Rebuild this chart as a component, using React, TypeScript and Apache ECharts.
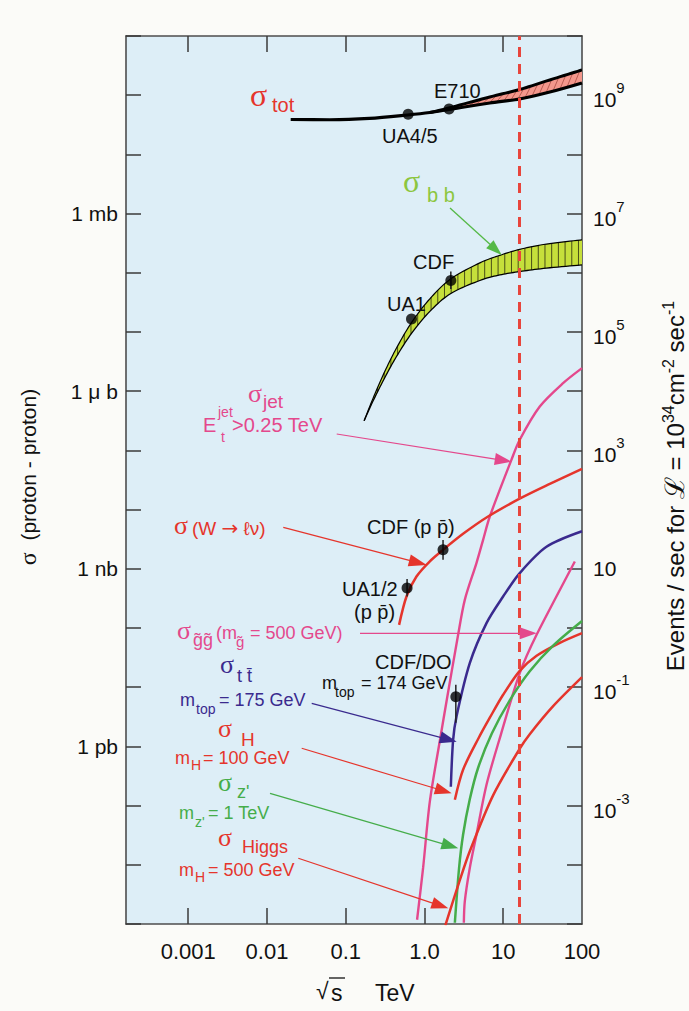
import React, { useEffect, useRef } from "react";
import * as echarts from "echarts";

const SANS = "'Liberation Sans', Arial, Helvetica, sans-serif";
const SERIF = "'Liberation Serif', 'Times New Roman', serif";

// ---------- axes ----------
const X_MIN_LOG = -3.79; // frame left edge (sqrt(s) ~ 0.00016 TeV)
const X_MAX_LOG = 2; // 100 TeV
const xTickValues = [0.001, 0.01, 0.1, 1, 10, 100];
const xTickLabels = ["0.001", "0.01", "0.1", "1.0", "10", "100"];
// sigma in nb ; events/sec = sigma[nb] * 10  (L = 1e34 cm^-2 s^-1)
const SIGMA_MIN_NB = 1e-6;
const SIGMA_MAX_NB = 1e9;
const leftTickValues = [1e6, 1e3, 1, 1e-3];
const leftTickLabels = ["1 mb", "1 \u03bc b", "1 nb", "1 pb"];
const rightTickExponents = [9, 7, 5, 3, 1, -1, -3];
const LHC_TEV = 16;

// ---------- data (sqrt(s) in TeV, sigma in nb) ----------
const totX = [0.02, 0.063, 0.2, 0.61, 1.17, 2.04, 6.75, 16.2, 39, 100];
const totLow = [3.89e7, 3.85e7, 4.05e7, 4.63e7, 5.1e7, 5.74e7, 7.39e7, 8.63e7, 1.13e8, 1.61e8];
const totHigh = [null, null, null, null, 5.1e7, 6.08e7, 9.33e7, 1.25e8, 1.81e8, 2.67e8];

const bbX = [0.171, 0.222, 0.313, 0.441, 0.684, 1.17, 2.16, 5.04, 9.04, 16.2, 35.4, 100];
const bbHigh = [316, 757, 2150, 5350, 1.44e4, 3.64e4, 7.9e4, 1.47e5, 1.97e5, 2.49e5, 3.06e5, 3.61e5];
const bbLow = [316, 681, 1690, 3850, 9460, 2.23e4, 4.47e4, 7.41e4, 9.2e4, 1.05e5, 1.2e5, 1.36e5];

const jetX = [0.805, 0.96, 1.17, 1.59, 1.92, 2.65, 3.25, 4.57, 5.55, 6.75, 12.7, 16.2, 29.1, 57.5, 100];
const jetY = [1.18e-6, 8.83e-6, 1.175e-4, 1.4e-3, 6.14e-3, 0.0718, 0.299, 1.25, 3.08, 7.64, 69.2, 151, 550, 1365, 2450];

const wX = [0.476, 0.591, 0.791, 1.17, 1.72, 3.09, 6.42, 16.6, 39.0, 100];
const wY = [0.113, 0.34, 0.741, 1.34, 2.09, 3.9, 7.64, 15.6, 27.2, 48.8];

const ttX = [2.16, 2.31, 2.55, 3.76, 6.13, 9.96, 16.2, 35.4, 100];
const ttY = [2.08e-4, 1.29e-3, 3.21e-3, 0.0255, 0.121, 0.34, 0.845, 2.35, 4.3];

const ggX = [3.16, 3.25, 3.76, 4.57, 6.13, 9.31, 16.2, 26.5, 81.1];
const ggY = [1.05e-6, 2.41e-6, 8.83e-6, 3.22e-5, 2.25e-4, 1.57e-3, 0.0173, 0.0767, 1.33];

const zpX = [2.43, 2.75, 3.09, 3.76, 4.8, 7.16, 12.1, 21.7, 43.0, 100];
const zpY = [1.05e-6, 8.83e-6, 3.22e-5, 1.28e-4, 4.36e-4, 1.65e-3, 6.01e-3, 0.0186, 0.0502, 0.131];

const h100X = [2.43, 3.09, 4.89, 6.75, 9.96, 16.2, 26.5, 52.3, 100];
const h100Y = [1.26e-4, 4.04e-4, 1.4e-3, 3.05e-3, 7.45e-3, 0.0189, 0.034, 0.0562, 0.082];

const h500X = [1.84, 2.81, 3.76, 7.43, 16.2, 21.7, 43.0, 100];
const h500Y = [9.5e-7, 5.5e-6, 1.69e-5, 1.49e-4, 9.16e-4, 1.61e-3, 4.79e-3, 0.0148];

// measurements: UA4/5, E710, UA1(bb), CDF(bb), UA1/2(W), CDF(W), CDF/D0(tt)
const ptX = [0.62, 2.05, 0.684, 2.16, 0.601, 1.72, 2.5];
const ptY = [4.76e7, 5.85e7, 1.66e4, 7.38e4, 0.472, 2.09, 0.00689];
const ptErrLow = [null, null, null, 5.35e4, 0.34, 1.42, 0.0025];
const ptErrHigh = [null, null, null, 1.05e5, 0.67, 3.08, 0.011];

// ---------- colours ----------
const RED = "#e5352c";
const PINK = "#e4488c";
const BLUE = "#3a2a8e";
const GREEN = "#45ad4a";
const LIME = "#8cc63f";

const lg = Math.log10;

function catmull(pts: number[][], n = 10): number[][] {
  if (pts.length < 3) return pts;
  const out: number[][] = [];
  for (let i = 0; i < pts.length - 1; i++) {
    const p0 = pts[i - 1] || pts[i];
    const p1 = pts[i];
    const p2 = pts[i + 1];
    const p3 = pts[i + 2] || p2;
    for (let j = 0; j < n; j++) {
      const t = j / n, t2 = t * t, t3 = t2 * t;
      const f = (a: number, b: number, c: number, d: number) =>
        0.5 * (2 * b + (-a + c) * t + (2 * a - 5 * b + 4 * c - d) * t2 + (-a + 3 * b - 3 * c + d) * t3);
      out.push([f(p0[0], p1[0], p2[0], p3[0]), f(p0[1], p1[1], p2[1], p3[1])]);
    }
  }
  out.push(pts[pts.length - 1]);
  return out;
}

function interp(pts: number[][], x: number): number {
  if (x <= pts[0][0]) return pts[0][1];
  for (let k = 0; k < pts.length - 1; k++) {
    const a = pts[k], b = pts[k + 1];
    if (x >= a[0] && x <= b[0]) {
      const t = b[0] === a[0] ? 0 : (x - a[0]) / (b[0] - a[0]);
      return a[1] + t * (b[1] - a[1]);
    }
  }
  return pts[pts.length - 1][1];
}

function bandSeries(xs: number[], lo: number[], hi: number[], o: any) {
  return {
    type: "custom",
    silent: true,
    clip: true,
    z: o.z || 2,
    data: [[lg(xs[0]), lg(lo[0])]],
    renderItem: (_p: any, api: any) => {
      const up = catmull(xs.map((x, i) => api.coord([lg(x), lg(hi[i])])));
      const dn = catmull(xs.map((x, i) => api.coord([lg(x), lg(lo[i])])));
      const children: any[] = [];
      children.push({
        type: "polygon",
        shape: { points: up.concat(dn.slice().reverse()) },
        style: { fill: o.fill, stroke: null },
      });
      const x0 = up[0][0], x1 = up[up.length - 1][0];
      for (let x = x0 + o.step; x < x1 - 1; x += o.step) {
        if (o.diag) {
          const xa = x - o.slant / 2, xb = x + o.slant / 2;
          if (xa < x0 || xb > x1) continue;
          const ya = interp(dn, xa) - 1, yb = interp(up, xb) + 1;
          if (ya - yb < 3) continue;
          children.push({ type: "line", shape: { x1: xa, y1: ya, x2: xb, y2: yb }, style: { stroke: o.hatch, lineWidth: 0.8 } });
        } else {
          children.push({ type: "line", shape: { x1: x, y1: interp(up, x), x2: x, y2: interp(dn, x) }, style: { stroke: o.hatch, lineWidth: 0.8 } });
        }
      }
      children.push({ type: "polyline", shape: { points: up }, style: { stroke: "#000", lineWidth: o.upW, fill: null } });
      if (o.dnW > 0) children.push({ type: "polyline", shape: { points: dn }, style: { stroke: "#000", lineWidth: o.dnW, fill: null } });
      return { type: "group", children };
    },
  };
}

function curve(xs: number[], ys: number[], color: string, width = 2.4, z = 3) {
  return {
    type: "line",
    silent: true,
    data: xs.map((x, i) => [lg(x), lg(ys[i])]),
    showSymbol: false,
    symbol: "none",
    smooth: 0.3,
    clip: true,
    z,
    lineStyle: { color, width },
  };
}

function T(text: string, x: number, y: number, size: number, color: string, o: any = {}) {
  return {
    type: "text",
    x,
    y,
    z: 50,
    silent: true,
    rotation: o.rotation || 0,
    style: {
      text,
      fill: color,
      font: `${size}px ${o.serif ? SERIF : SANS}`,
      align: o.align || "left",
      verticalAlign: "middle",
      textAlign: o.align || "left",
      textVerticalAlign: "middle",
      rich: o.rich,
      lineHeight: o.lineHeight,
    },
  };
}

function arrow(x1: number, y1: number, x2: number, y2: number, color: string, head = 16, w = 5.5, lw = 1.3) {
  const dx = x2 - x1, dy = y2 - y1, L = Math.hypot(dx, dy);
  const ux = dx / L, uy = dy / L;
  const bx = x2 - ux * head, by = y2 - uy * head;
  const px = -uy, py = ux;
  return [
    { type: "line", z: 49, silent: true, shape: { x1, y1, x2: bx + ux * 2, y2: by + uy * 2 }, style: { stroke: color, lineWidth: lw } },
    {
      type: "polygon",
      z: 49,
      silent: true,
      shape: { points: [[x2, y2], [bx + px * w, by + py * w], [bx - px * w, by - py * w]] },
      style: { fill: color },
    },
  ];
}

export default function App() {
  const ref = useRef<HTMLDivElement>(null);

  useEffect(() => {
    document.body.style.margin = "0";
    if (!ref.current) return;
    const chart = echarts.init(ref.current, undefined, { renderer: "svg" });

    const totIdx = totHigh.map((v, i) => (v == null ? -1 : i)).filter((i) => i >= 0);
    const errRows = ptX
      .map((x, i) => (ptErrLow[i] == null ? null : [lg(x), lg(ptErrLow[i] as number), lg(ptErrHigh[i] as number)]))
      .filter((r) => r != null);

    const xLabel = (v: number) => {
      for (let i = 0; i < xTickValues.length; i++) if (Math.abs(lg(xTickValues[i]) - v) < 1e-6) return xTickLabels[i];
      return "";
    };
    const leftLabel = (v: number) => {
      for (let i = 0; i < leftTickValues.length; i++) if (Math.abs(lg(leftTickValues[i]) - v) < 1e-6) return leftTickLabels[i];
      return "";
    };
    const rightLabel = (v: number) => {
      const e = Math.round(v);
      if (!rightTickExponents.includes(e)) return "";
      return e === 1 ? "{p|10}" : `{b|10}{s|${e}}`;
    };

    const axisLineStyle = { color: "#4d4d4d", width: 1.6 };
    const tickStyle = { color: "#3a3a3a", width: 1.5 };
    const xTicks = xTickValues.slice(0, 5).map(lg);

    const option: any = {
      animation: false,
      backgroundColor: "#fbfbf8",
      grid: {
        left: 126,
        right: 107,
        top: 36,
        bottom: 87,
        show: true,
        backgroundColor: "#ddeef7",
        borderWidth: 0,
        containLabel: false,
        outerBoundsMode: "none",
      },
      xAxis: [
        {
          type: "value",
          position: "bottom",
          min: X_MIN_LOG,
          max: X_MAX_LOG,
          axisLine: { show: true, onZero: false, lineStyle: axisLineStyle },
          axisTick: { show: true, inside: true, length: 16, customValues: xTicks, lineStyle: tickStyle },
          axisLabel: {
            customValues: xTickValues.map(lg),
            formatter: (v: number) => xLabel(v),
            fontSize: 22,
            fontFamily: SANS,
            color: "#111",
            margin: 16,
          },
          splitLine: { show: false },
        },
        {
          type: "value",
          position: "top",
          min: X_MIN_LOG,
          max: X_MAX_LOG,
          axisLine: { show: true, onZero: false, lineStyle: axisLineStyle },
          axisTick: { show: true, inside: true, length: 16, customValues: xTicks, lineStyle: tickStyle },
          axisLabel: { show: false },
          splitLine: { show: false },
        },
      ],
      yAxis: [
        {
          type: "value",
          position: "left",
          min: lg(SIGMA_MIN_NB),
          max: lg(SIGMA_MAX_NB),
          interval: 1,
          axisLine: { show: true, onZero: false, lineStyle: axisLineStyle },
          axisTick: { show: true, inside: true, length: 15, lineStyle: tickStyle },
          axisLabel: { formatter: (v: number) => leftLabel(v), fontSize: 21, fontFamily: SANS, color: "#111", margin: 8 },
          splitLine: { show: false },
        },
        {
          type: "value",
          position: "right",
          min: lg(SIGMA_MIN_NB * 10),
          max: lg(SIGMA_MAX_NB * 10),
          interval: 1,
          axisLine: { show: true, onZero: false, lineStyle: axisLineStyle },
          axisTick: { show: true, inside: true, length: 15, lineStyle: tickStyle },
          axisLabel: {
            formatter: (v: number) => rightLabel(v),
            margin: 11,
            rich: {
              p: { fontSize: 21, fontFamily: SANS, color: "#111" },
              b: { fontSize: 21, fontFamily: SANS, color: "#111", lineHeight: 30, verticalAlign: "bottom" },
              s: { fontSize: 15, fontFamily: SANS, color: "#111", lineHeight: 16, verticalAlign: "top" },
            },
          },
          splitLine: { show: false },
        },
      ],
      series: [
        bandSeries(
          totIdx.map((i) => totX[i]),
          totIdx.map((i) => totLow[i]),
          totIdx.map((i) => totHigh[i] as number),
          { fill: "#f3978c", hatch: "#a94c44", step: 7, diag: true, slant: 5, upW: 3, dnW: 0 }
        ),
        curve(totX, totLow, "#000", 3.2),
        bandSeries(bbX, bbLow, bbHigh, { fill: "#c6df3b", hatch: "#2a2a10", step: 6.7, diag: false, upW: 1.2, dnW: 1.3 }),
        curve(jetX, jetY, PINK, 2.4),
        curve(wX, wY, RED, 2.5),
        curve(ttX, ttY, BLUE, 2.5),
        curve(ggX, ggY, PINK, 2.4),
        curve(h100X, h100Y, RED, 2.5),
        curve(zpX, zpY, GREEN, 2.5),
        curve(h500X, h500Y, RED, 2.5),
        {
          type: "custom",
          silent: true,
          z: 5,
          data: errRows,
          renderItem: (_p: any, api: any) => {
            const a = api.coord([api.value(0), api.value(1)]);
            const b = api.coord([api.value(0), api.value(2)]);
            return { type: "line", shape: { x1: a[0], y1: a[1], x2: b[0], y2: b[1] }, style: { stroke: "#222", lineWidth: 1.5 } };
          },
        },
        {
          type: "scatter",
          silent: true,
          z: 6,
          symbol: "circle",
          symbolSize: 11,
          itemStyle: { color: "#000" },
          data: ptX.map((x, i) => [lg(x), lg(ptY[i])]),
          markLine: {
            silent: true,
            symbol: ["none", "none"],
            label: { show: false },
            lineStyle: { color: "#e8453c", width: 3, type: [10, 7] },
            data: [{ xAxis: lg(LHC_TEV) }],
          },
        },
      ],
      graphic: {
        elements: [
          // axis titles
          T("{g|\u03c3}  (proton - proton)", 28, 477, 21, "#111", {
            align: "center",
            rotation: Math.PI / 2,
            rich: { g: { fontFamily: SERIF, fontSize: 24, fill: "#111" } },
          }),
          T("Events / sec for {L|\u2112} = 10{s|34}cm{s|-2} sec{s|-1}", 675, 486, 24, "#111", {
            align: "center",
            rotation: Math.PI / 2,
            lineHeight: 30,
            rich: {
              L: { fontFamily: SERIF, fontSize: 27, fill: "#111", lineHeight: 30 },
              s: { fontFamily: SANS, fontSize: 16, fill: "#111", lineHeight: 16, verticalAlign: "top" },
            },
          }),
          T("\u221a", 316, 991, 23, "#111"),
          T("s", 331, 993, 23, "#111"),
          { type: "line", z: 50, silent: true, shape: { x1: 329, y1: 978, x2: 345, y2: 978 }, style: { stroke: "#111", lineWidth: 1.3 } },
          T("TeV", 375, 993, 23, "#111"),

          // sigma tot
          T("\u03c3", 250, 95, 32, RED, { serif: true }),
          T("tot", 272, 105, 20, RED),
          T("E710", 434, 91, 20, "#111"),
          T("UA4/5", 382, 136, 20, "#111"),

          // sigma bb
          T("\u03c3", 403, 181, 32, LIME, { serif: true }),
          T("b b", 427, 195, 20, LIME),
          ...arrow(450, 208, 501.7, 255, "#55b947"),
          T("CDF", 413, 262, 20, "#111"),
          T("UA1", 387, 304, 20, "#111"),

          // sigma jet
          T("\u03c3", 248, 393, 26, PINK, { serif: true }),
          T("jet", 263, 401, 19, PINK),
          T("E", 203, 425, 20, PINK),
          T("jet", 218, 412, 14, PINK),
          T("t", 221, 437, 14, PINK),
          T(">0.25 TeV", 232, 425, 20, PINK),
          ...arrow(336.7, 434, 511.7, 461.7, PINK, 17, 6, 1.2),

          // W
          T("\u03c3", 174, 525, 26, RED, { serif: true }),
          T("(W {a|\u2192} \u2113\u03bd)", 192, 528, 19, RED, {
            rich: { a: { fontFamily: "'DejaVu Sans', sans-serif", fontSize: 20, fill: RED } },
          }),
          ...arrow(283.3, 527.3, 426.7, 565, RED, 18, 6, 1.2),
          T("CDF (p p\u0304)", 367, 527, 20, "#111"),
          T("UA1/2", 342, 589, 20, "#111"),
          T("(p p\u0304)", 354, 612, 20, "#111"),

          // gluino
          T("\u03c3", 177, 630, 26, PINK, { serif: true }),
          T("g\u0303g\u0303", 193, 640, 18, PINK),
          T("(m", 216, 633, 18, PINK),
          T("g\u0303", 236, 641, 15, PINK),
          T("= 500 GeV)", 250, 633, 18, PINK),
          ...arrow(360, 633.3, 536.7, 633.3, PINK, 17, 6, 1.2),

          // top
          T("\u03c3", 220, 664, 26, BLUE, { serif: true }),
          T("t t\u0304", 237, 676, 18, BLUE),
          T("m", 180, 700, 18, BLUE),
          T("top", 196, 709, 14, BLUE),
          T("= 175 GeV", 219, 700, 18, BLUE),
          ...arrow(311.7, 703.3, 456.7, 741.7, BLUE, 17, 6, 1.2),
          T("CDF/DO", 375, 662, 20, "#111"),
          T("m", 322, 683, 18, "#111"),
          T("top", 335, 692, 14, "#111"),
          T("= 174 GeV", 361, 683, 18, "#111"),

          // Higgs 100
          T("\u03c3", 218, 728, 26, RED, { serif: true }),
          T("H", 241, 739, 19, RED),
          T("m", 175, 758, 18, RED),
          T("H", 191, 765, 14, RED),
          T("= 100 GeV", 203, 758, 18, RED),
          ...arrow(301.7, 748.3, 451.7, 793.3, RED, 17, 6, 1.2),

          // Z'
          T("\u03c3", 218, 782, 26, GREEN, { serif: true }),
          T("z'", 237, 792, 18, GREEN),
          T("m", 179, 813, 18, GREEN),
          T("z'", 195, 822, 14, GREEN),
          T("= 1 TeV", 208, 813, 18, GREEN),
          ...arrow(270, 793.3, 458.3, 848.3, GREEN, 17, 6, 1.2),

          // Higgs 500
          T("\u03c3", 218, 837, 26, RED, { serif: true }),
          T("Higgs", 242, 847, 18, RED),
          T("m", 179, 870, 18, RED),
          T("H", 195, 877, 14, RED),
          T("= 500 GeV", 208, 870, 18, RED),
          ...arrow(298.3, 858.3, 448.3, 908.3, RED, 17, 6, 1.2),
        ],
      },
    };

    chart.setOption(option);
    return () => chart.dispose();
  }, []);

  return <div ref={ref} style={{ width: 689, height: 1011 }} />;
}
